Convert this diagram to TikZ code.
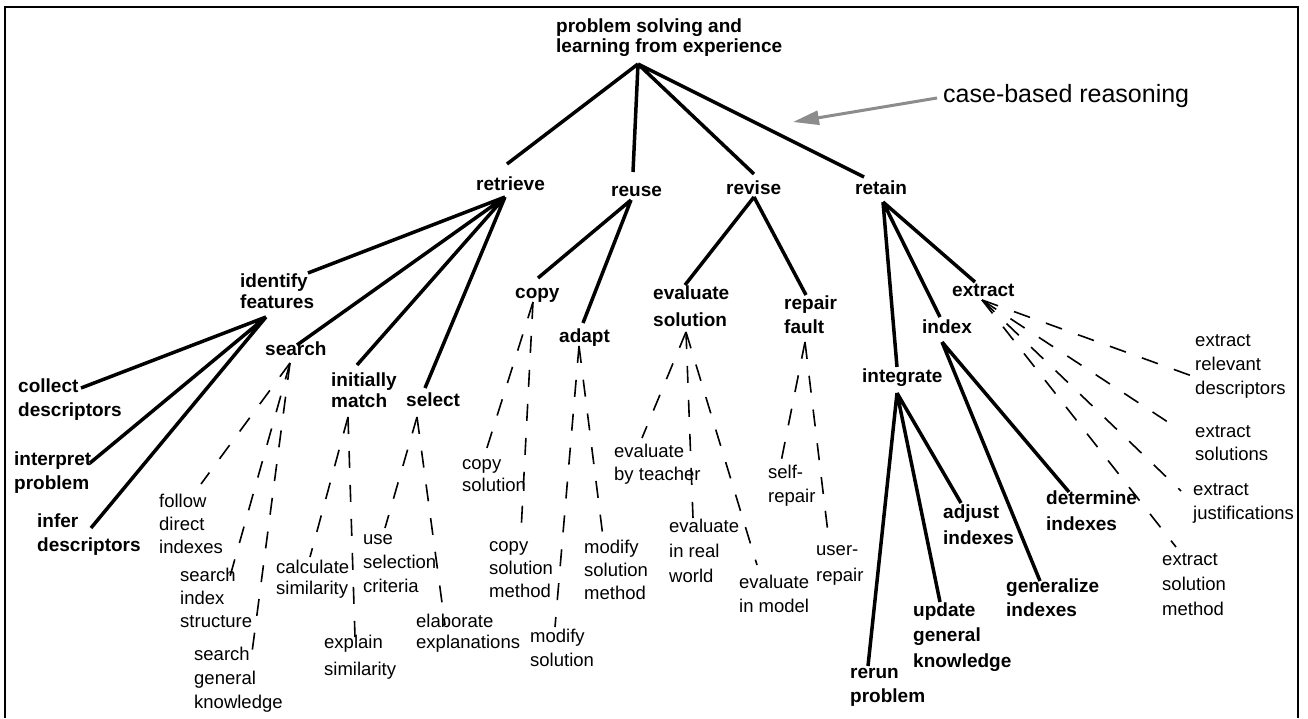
\documentclass[tikz,border=0pt]{standalone}
\usepackage{fontspec}
\setmainfont{Liberation Sans}
\usepackage{tikz}
\usetikzlibrary{arrows.meta}
\definecolor{arrowgray}{gray}{0.55}

\begin{document}
\begin{tikzpicture}[x=1pt,y=-1pt,
        every node/.style={inner sep=0pt,anchor=base west,align=left}]
        \tikzstyle{bnode}=[font=\bfseries\fontsize{19}{24}\selectfont]
        \tikzstyle{pnode}=[font=\fontsize{18.5}{24}\selectfont]
        \tikzstyle{branch}=[line width=3.5pt]
        \tikzstyle{subbranch}=[line width=1.6pt,dash pattern=on 17pt off 17pt]
        \useasboundingbox (0,0) rectangle (1308,718);
        \draw[line width=2.5pt] (5,718) -- (5,7) -- (1298,7) -- (1298,718);

        \node[bnode] (root) at (556,52) {problem solving and\\[-4pt]learning from experience};
        \node[font=\fontsize{25}{28}\selectfont] (cbr) at (943,102) {case-based reasoning};
        \coordinate (cbr-tip) at (793,122);
        \draw[line width=3pt,draw=arrowgray,-{Triangle[length=26pt,width=14pt]}]
            ([shift={(-6,-4)}]cbr.base west) -- (cbr-tip);

        \node[bnode] (retrieve) at (476,190) {retrieve};
        \node[bnode] (reuse) at (611,196) {reuse};
        \node[bnode] (revise) at (726,194) {revise};
        \node[bnode] (retain) at (855,194) {retain};

        \node[bnode] (identify) at (240,308) {identify\\[-3pt]features};
        \node[bnode] (search) at (265,355) {search};
        \node[bnode] (imatch) at (331,407) {initially\\[-3pt]match};
        \node[bnode] (select) at (406,406) {select};
        \node[bnode] (collect) at (18,416) {collect\\descriptors};
        \node[bnode] (interpret) at (14,489) {interpret\\problem};
        \node[bnode] (infer) at (37,551) {infer\\descriptors};

        \node[bnode] (copy) at (515,298) {copy};
        \node[bnode] (adapt) at (559,342) {adapt};
        \node[bnode] (evalsol) at (653,326) {evaluate\\[3pt]solution};
        \node[bnode] (repair) at (784,333) {repair\\fault};

        \node[bnode] (integrate) at (862,382) {integrate};
        \node[bnode] (index) at (922,333) {index};
        \node[bnode] (extract) at (952,296) {extract};
        \node[bnode] (adjust) at (943,544) {adjust\\[2pt]indexes};
        \node[bnode] (update) at (913,667) {update\\[1.5pt]general\\[1.5pt]knowledge};
        \node[bnode] (rerun) at (850,702) {rerun\\problem};
        \node[bnode] (determine) at (1046,530) {determine\\[2pt]indexes};
        \node[bnode] (generalize) at (1006,616) {generalize\\indexes};

        \node[pnode] (follow) at (159,553) {follow\\[-1pt]direct\\[-1pt]indexes};
        \node[pnode] (sindex) at (180,627) {search\\[-1pt]index\\[-1pt]structure};
        \node[pnode] (sknow) at (194,708) {search\\general\\knowledge};
        \node[pnode] (calcsim) at (276,594) {calculate\\[-3pt]similarity};
        \node[pnode] (explsim) at (324,675) {explain\\[3pt]similarity};
        \node[pnode] (usesel) at (363,592) {use\\selection\\criteria};
        \node[pnode] (elab) at (416,648) {elaborate\\[-3pt]explanations};
        \node[pnode] (copysol) at (462,491) {copy\\[-2pt]solution};
        \node[pnode] (copymeth) at (489,597) {copy\\[-1pt]solution\\[-1pt]method};
        \node[pnode] (modsol) at (530,666) {modify\\solution};
        \node[pnode] (modmeth) at (584,599) {modify\\[-1pt]solution\\[-1pt]method};
        \node[pnode] (byteach) at (614,480) {evaluate\\[-1pt]by teacher};
        \node[pnode] (realw) at (669,582) {evaluate\\[1pt]in real\\[1pt]world};
        \node[pnode] (inmodel) at (739,612) {evaluate\\in model};
        \node[pnode] (selfrep) at (768,502) {self-\\repair};
        \node[pnode] (userrep) at (816,581) {user-\\[2pt]repair};
        \node[pnode] (exrel) at (1195,394) {extract\\relevant\\descriptors};
        \node[pnode] (exsol) at (1195,460) {extract\\[-1pt]solutions};
        \node[pnode] (exjust) at (1193,519) {extract\\justifications};
        \node[pnode] (exmeth) at (1162,615) {extract\\[1pt]solution\\[1pt]method};

        \coordinate (root-b) at ([shift={(82,12)}]root.base west);
        \coordinate (retrieve-b) at ([shift={(29,7)}]retrieve.base west);
        \coordinate (identify-b) at ([shift={(26,9)}]identify.base west);
        \coordinate (reuse-b) at ([shift={(20,4)}]reuse.base west);
        \coordinate (revise-b) at ([shift={(28,3)}]revise.base west);
        \coordinate (retain-b) at ([shift={(28,8)}]retain.base west);
        \coordinate (search-b) at ([shift={(25,8)}]search.base west);
        \coordinate (imatch-b) at ([shift={(17,10)}]imatch.base west);
        \coordinate (select-b) at ([shift={(11,11)}]select.base west);
        \coordinate (copy-b) at ([shift={(18,4)}]copy.base west);
        \coordinate (adapt-b) at ([shift={(20,4)}]adapt.base west);
        \coordinate (evalsol-b) at ([shift={(33,6)}]evalsol.base west);
        \coordinate (repair-b) at ([shift={(21,9)}]repair.base west);
        \coordinate (integrate-b) at ([shift={(35,11)}]integrate.base west);
        \coordinate (index-b) at ([shift={(20,9)}]index.base west);
        \coordinate (extract-b) at ([shift={(30,4)}]extract.base west);

        \draw[branch] (root-b) -- ([shift={(31,-26)}]retrieve.base west)
            (root-b) -- ([shift={(22,-24)}]reuse.base west)
            (root-b) -- ([shift={(28,-20)}]revise.base west)
            (root-b) -- ([shift={(9,-17)}]retain.base west);
        \draw[branch] (retrieve-b) -- ([shift={(68,-35)}]identify.base west)
            (retrieve-b) -- ([shift={(32,-10)}]search.base west)
            (retrieve-b) -- ([shift={(26,-42)}]imatch.base west)
            (retrieve-b) -- ([shift={(19,-18)}]select.base west);
        \draw[branch] (identify-b) -- ([shift={(63,-28)}]collect.base west)
            (identify-b) -- ([shift={(76,-26)}]interpret.base west)
            (identify-b) -- ([shift={(54,-23)}]infer.base west);
        \draw[branch] (reuse-b) -- ([shift={(23,-20)}]copy.base west)
            (reuse-b) -- ([shift={(24,-19)}]adapt.base west);
        \draw[branch] (revise-b) -- ([shift={(32,-41)}]evalsol.base west)
            (revise-b) -- ([shift={(22,-38)}]repair.base west);
        \draw[branch] (retain-b) -- ([shift={(35,-15)}]integrate.base west)
            (retain-b) -- ([shift={(18,-16)}]index.base west)
            (retain-b) -- ([shift={(23,-14)}]extract.base west);
        \draw[branch] (integrate-b) -- ([shift={(18,-41)}]adjust.base west)
            (integrate-b) -- ([shift={(27,-65)}]update.base west)
            (integrate-b) -- ([shift={(18,-36)}]rerun.base west);
        \draw[branch] (index-b) -- ([shift={(23,-38)}]determine.base west)
            (index-b) -- ([shift={(34,-35)}]generalize.base west);

        \draw[subbranch] (search-b) -- ([shift={(42,-69)}]follow.base west);
        \draw[subbranch] (search-b) -- ([shift={(49,-47)}]sindex.base west);
        \draw[subbranch] (search-b) -- ([shift={(57,-48)}]sknow.base west);
        \draw[subbranch] (imatch-b) -- ([shift={(34,-37)}]calcsim.base west);
        \draw[subbranch] (imatch-b) -- ([shift={(31,-38)}]explsim.base west);
        \draw[subbranch] (select-b) -- ([shift={(22,-64)}]usesel.base west);
        \draw[subbranch] (select-b) -- ([shift={(29,-23)}]elab.base west);
        \draw[subbranch] (copy-b) -- ([shift={(23,-37)}]copysol.base west);
        \draw[subbranch] (copy-b) -- ([shift={(32,-65)}]copymeth.base west);
        \draw[subbranch] (adapt-b) -- ([shift={(25,-39)}]modsol.base west);
        \draw[subbranch] (adapt-b) -- ([shift={(19,-62)}]modmeth.base west);
        \draw[subbranch] (evalsol-b) -- ([shift={(28,-42)}]byteach.base west);
        \draw[subbranch] (evalsol-b) -- ([shift={(24,-64)}]realw.base west);
        \draw[subbranch] (evalsol-b) -- ([shift={(18,-47)}]inmodel.base west);
        \draw[subbranch] (repair-b) -- ([shift={(13,-40)}]selfrep.base west);
        \draw[subbranch] (repair-b) -- ([shift={(12,-48)}]userrep.base west);
        \draw[subbranch] (extract-b) -- ([shift={(-3,-18)}]exrel.base west);
        \draw[subbranch] (extract-b) -- ([shift={(-15,-30)}]exsol.base west);
        \draw[subbranch] (extract-b) -- ([shift={(-12,-28)}]exjust.base west);
        \draw[subbranch] (extract-b) -- ([shift={(14,-68)}]exmeth.base west);
\end{tikzpicture}
\end{document}
